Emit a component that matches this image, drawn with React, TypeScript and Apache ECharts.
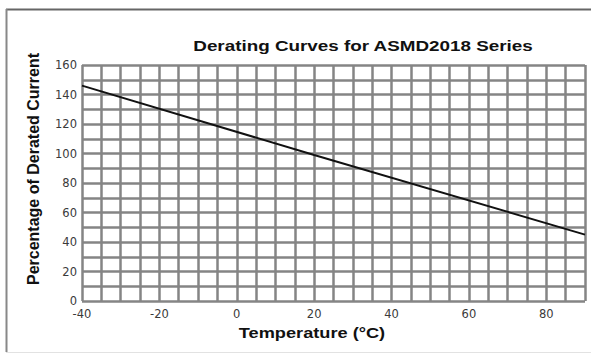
import React, { useEffect, useRef } from "react";
import * as echarts from "echarts";

const chartTitle = "Derating Curves for ASMD2018 Series";
const xAxisTitle = "Temperature (\u00B0C)";
const yAxisTitle = "Percentage of Derated Current";

const temperatures = [-40, 20, 90];
const deratedPercent = [146, 99, 45];

const xTickLabels = [-40, -20, 0, 20, 40, 60, 80];
const yTickLabels = [0, 20, 40, 60, 80, 100, 120, 140, 160];

export default function App() {
  const ref = useRef<HTMLDivElement>(null);
  useEffect(() => {
    if (!ref.current) return;
    const chart = echarts.init(ref.current, null, { renderer: "svg" });
    const gridLine = { color: "#858585", width: 2.5 };
    chart.setOption({
      animation: false,
      backgroundColor: "#ffffff",
      grid: { left: 82, right: 6, top: 65, bottom: 55, containLabel: false },
      xAxis: {
        type: "value",
        min: -40,
        max: 90,
        interval: 5,
        axisLine: { show: false },
        axisTick: { show: false },
        splitLine: { show: true, lineStyle: gridLine },
        axisLabel: {
          margin: 7,
          fontFamily: "DejaVu Sans",
          fontSize: 11.5,
          color: "#3a3a3a",
          formatter: (v: number) => (xTickLabels.includes(v) ? String(v) : ""),
        },
      },
      yAxis: {
        type: "value",
        min: 0,
        max: 160,
        interval: 10,
        axisLine: { show: false },
        axisTick: { show: false },
        splitLine: { show: true, lineStyle: gridLine },
        axisLabel: {
          margin: 5,
          fontFamily: "DejaVu Sans",
          fontSize: 11.5,
          color: "#3a3a3a",
          formatter: (v: number) => (yTickLabels.includes(v) ? String(v) : ""),
        },
      },
      series: [
        {
          type: "line",
          data: temperatures.map((t, i) => [t, deratedPercent[i]]),
          symbol: "none",
          lineStyle: { color: "#111", width: 2 },
          z: 5,
        },
      ],
      graphic: [
        { type: "line", shape: { x1: 6, y1: 9.5, x2: 591, y2: 9.5 }, style: { stroke: "#666", lineWidth: 2 } },
        { type: "line", shape: { x1: 6.5, y1: 9, x2: 6.5, y2: 352 }, style: { stroke: "#888", lineWidth: 2 } },
        { type: "line", shape: { x1: 6, y1: 352.5, x2: 591, y2: 352.5 }, style: { stroke: "#e2e2e2", lineWidth: 1 } },
        {
          type: "text",
          x: 363,
          y: 46,
          scaleX: 1.3,
          style: {
            text: chartTitle,
            fontFamily: "Liberation Sans",
            fontWeight: "bold",
            fontSize: 14.5,
            fill: "#111",
            align: "center",
            verticalAlign: "middle",
          },
        },
        {
          type: "text",
          x: 312,
          y: 333,
          scaleX: 1.3,
          style: {
            text: xAxisTitle,
            fontFamily: "Liberation Sans",
            fontWeight: "bold",
            fontSize: 14,
            fill: "#111",
            align: "center",
            verticalAlign: "middle",
          },
        },
        {
          type: "text",
          x: 33,
          y: 169,
          rotation: Math.PI / 2,
          style: {
            text: yAxisTitle,
            fontFamily: "Liberation Sans",
            fontWeight: "bold",
            fontSize: 16,
            fill: "#111",
            align: "center",
            verticalAlign: "middle",
          },
        },
      ],
    });
    return () => chart.dispose();
  }, []);
  return (
    <div
      ref={ref}
      style={{ position: "absolute", left: 0, top: 0, width: 591, height: 356 }}
    />
  );
}
